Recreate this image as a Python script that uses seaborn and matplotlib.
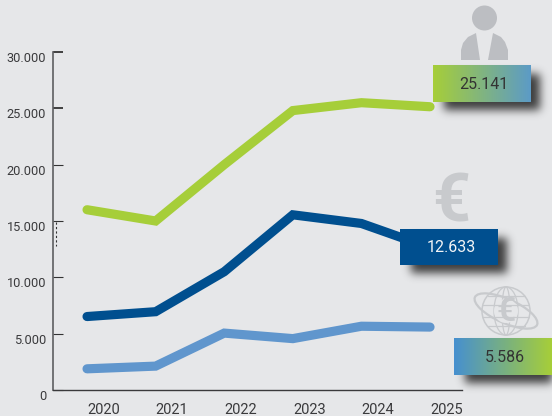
import numpy as np
import pandas as pd
import matplotlib
matplotlib.use('Agg')
import matplotlib.pyplot as plt
import matplotlib.transforms as mtrans
from matplotlib.colors import to_rgb
from matplotlib.patches import Circle, Ellipse, Polygon
import seaborn as sns

# values (dots as thousands separator on the axis)
years = [2020, 2021, 2022, 2023, 2024, 2025]
green_vals = [16000, 15000, 20000, 24800, 25500, 25141]
dark_vals = [6520, 6950, 10500, 15550, 14780, 12633]
light_vals = [1880, 2120, 5050, 4560, 5660, 5586]
ytick_vals = [0, 5000, 10000, 15000, 20000, 25000, 30000]
ytick_labels = ['0', '5.000', '10.000', '15.000', '20.000', '25.000', '30.000']

BG = '#e6e7e9'
GREEN = '#a6ce39'
DARK = '#004f8f'
LIGHT = '#6096cd'
ICON = '#c8cacd'

W, H = 552, 416

sns.set_theme(style='white')
plt.rcParams['font.family'] = ['Roboto', 'DejaVu Sans']

df = pd.DataFrame({'year': years * 3,
                   'value': green_vals + dark_vals + light_vals,
                   'series': ['green'] * 6 + ['dark'] * 6 + ['light'] * 6})

fig = plt.figure(figsize=(W / 100, H / 100), dpi=100, facecolor=BG)
ax = fig.add_axes([53 / W, 1 - 390 / H, (462 - 53) / W, (390 - 52) / H], facecolor=BG)

sns.lineplot(data=df, x='year', y='value', hue='series', ax=ax, legend=False,
             palette={'green': GREEN, 'dark': DARK, 'light': LIGHT},
             linewidth=6.6, solid_capstyle='round', solid_joinstyle='miter')

ax.set_xlim(2019.504, 2025.466)
ax.set_ylim(0, 30000)
ax.set_xlabel('')
ax.set_ylabel('')
sns.despine(ax=ax)
ax.spines['left'].set_color('#5e5f61')
ax.spines['left'].set_linewidth(1.2)
ax.spines['bottom'].set_color('#3a3a3c')
ax.spines['bottom'].set_linewidth(1.0)

ax.set_xticks(years)
ax.set_xticklabels([str(y) for y in years], fontsize=10.5, color='#3a3a3c')
ax.tick_params(axis='x', length=0, pad=9)
ax.set_yticks(ytick_vals)
ax.set_yticklabels(ytick_labels, fontsize=9.2, color='#3a3a3c')
ax.tick_params(axis='y', direction='in', length=7.2, pad=5, left=True, color='#333333')

# the labels sit off their ticks in the original
xshift = mtrans.ScaledTranslation(16.5 / 100, 0, fig.dpi_scale_trans)
for lab in ax.get_xticklabels():
    lab.set_transform(lab.get_transform() + xshift)
yshift = mtrans.ScaledTranslation(0, -5 / 100, fig.dpi_scale_trans)
for lab in ax.get_yticklabels():
    lab.set_transform(lab.get_transform() + yshift)
for val, tick in zip(ytick_vals, ax.yaxis.get_major_ticks()):
    tick.tick1line.set_markeredgewidth(1.3 if val >= 25000 else 0.8)


# overlay in pixel coords for badges + icons
ov = fig.add_axes([0, 0, 1, 1], facecolor='none')
ov.set_axis_off()


def blur(a, sigma):
    r = int(sigma * 3)
    k = np.exp(-0.5 * (np.arange(-r, r + 1) / sigma) ** 2)
    k = k / k.sum()
    a = np.apply_along_axis(lambda m: np.convolve(m, k, mode='same'), 0, a)
    a = np.apply_along_axis(lambda m: np.convolve(m, k, mode='same'), 1, a)
    return a


def shadow(x0, y0, x1, y1):
    mask = np.zeros((H, W))
    mask[y0 + 9:y1 + 8, x0 + 11:x1 + 9] = 1
    img = np.zeros((H, W, 4))
    img[..., 3] = blur(mask, 4.5) * 0.85
    img[..., :3] = 0.12
    ov.imshow(img, extent=(0, W, H, 0), aspect='auto', zorder=1, interpolation='bilinear')


def badge(x0, y0, x1, y1, c0, c1, txt, txtcolor):
    shadow(x0, y0, x1, y1)
    c0, c1 = np.array(to_rgb(c0)), np.array(to_rgb(c1))
    t = np.linspace(0, 1, x1 - x0)[None, :, None]
    ov.imshow(c0 + (c1 - c0) * t, extent=(x0, x1, y1, y0), aspect='auto', zorder=2)
    ov.text((x0 + x1) / 2 + 2, (y0 + y1) / 2 + 1, txt, ha='center', va='center',
            fontsize=11.5, color=txtcolor, zorder=3)


badge(433, 65, 531, 102, '#a6ce39', '#5c9bc6', '25.141', '#333333')
badge(400, 229, 498, 265, DARK, DARK, '12.633', '#f2f4f6')
badge(454, 338, 552, 375, '#4790cf', '#a6ce39', '5.586', '#333333')

# person icon
ov.add_patch(Circle((484.5, 18), 12.5, color='#bcbec2', lw=0))
ov.add_patch(Polygon([(461, 60), (461, 50), (463, 43), (468, 37), (476, 33), (480, 60)],
                     closed=True, color='#bcbec2', lw=0))
ov.add_patch(Polygon([(488, 60), (493, 33), (501, 37), (505, 42), (508, 50), (508, 60)],
                     closed=True, color='#bcbec2', lw=0))

# euro icon
ov.text(451.5, 203, '€', ha='center', va='center', fontsize=48, fontweight='bold',
        color=ICON, family='Roboto')

# globe icon
gx, gy = 506, 311
ov.add_patch(Circle((gx, gy), 24, fill=False, ec=ICON, lw=1.1))
ov.add_patch(Ellipse((gx, gy), 24, 48, fill=False, ec=ICON, lw=0.9))
ov.add_patch(Ellipse((gx, gy), 8, 48, fill=False, ec=ICON, lw=0.9))
for dy, half in [(-15, 18.5), (-6, 23), (6, 23), (15, 18.5)]:
    ov.plot([gx - half, gx + half], [gy + dy, gy + dy], color=ICON, lw=0.9)
ov.add_patch(Ellipse((gx, gy), 68, 24, angle=24, fill=False, ec=ICON, lw=1.6))
ov.add_patch(Circle((gx, gy), 12, color=BG, lw=0))
ov.text(gx, gy + 1, '€', ha='center', va='center', fontsize=24, fontweight='bold',
        color=ICON, family='Roboto')

# little dotted stub under the 15.000 tick
ov.plot([55.5, 55.5], [222, 246], color='#333333', lw=0.8, ls=(0, (2, 2)))

ov.set_xlim(0, W)
ov.set_ylim(H, 0)

fig.savefig('out.png', dpi=100, facecolor=BG)
